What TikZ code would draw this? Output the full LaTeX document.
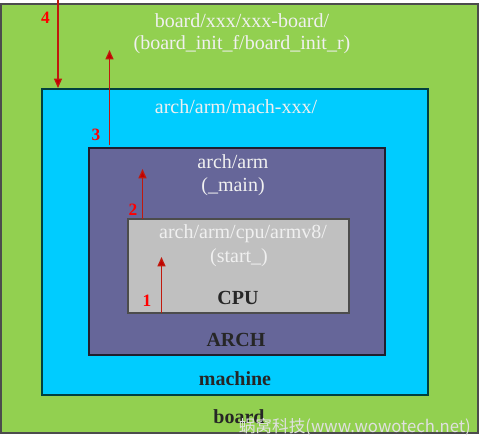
\documentclass[tikz,border=0pt]{standalone}
\usepackage{fontspec}
\setmainfont{Liberation Serif}
\newfontfamily\cjkwm{Noto Sans CJK SC}
\usetikzlibrary{arrows.meta}
\definecolor{boardc}{HTML}{92D050}
\definecolor{machc}{HTML}{00CCFF}
\definecolor{archc}{HTML}{666699}
\definecolor{cpuc}{HTML}{C0C0C0}
\definecolor{arrc}{HTML}{C00000}
\definecolor{numc}{HTML}{FF0000}
\tikzset{
  layer/.style={draw=#1, line width=0.9pt},
  wtext/.style={text=white!94!black, font=\fontsize{15}{18}\selectfont, inner sep=0pt},
  btext/.style={text=black!85, font=\fontsize{15}{18}\selectfont\bfseries, inner sep=0pt},
  numtext/.style={text=numc, font=\fontsize{13}{15}\selectfont\bfseries, inner sep=0pt},
  flow/.style={draw=arrc!80!brown, line width=0.9pt, -{Triangle[length=7pt,width=6pt,fill=arrc]}},
}
\begin{document}
\begin{tikzpicture}[x=0.75pt,y=-0.75pt]
\useasboundingbox (0,0) rectangle (480,440);
% layers
\path[fill=boardc, layer=black!70] (1,4) rectangle (478,433);
\node[coordinate] (boardtop) at (58,0) {};
\path[fill=machc, layer=teal!50!black] (42,89) rectangle (428,395);
\path[fill=archc, layer=black!70!archc] (89,148) rectangle (385,355);
\path[fill=cpuc, layer=black!70] (128,219) rectangle (349,313);
% coordinates for arrows
\coordinate (machtop4) at (58,88);
\coordinate (a3s) at (109.5,145);
\coordinate (a3e) at (109.5,50);
\coordinate (a2s) at (142.5,219);
\coordinate (a2e) at (142.5,169);
\coordinate (a1s) at (161.5,313);
\coordinate (a1e) at (161.5,257);
% texts
\node[wtext] (bpath) at (242,21) {board/xxx/xxx-board/};
\node[wtext] (binit) at (242,45) {(board\_init\_f/board\_init\_r)};
\node[wtext] (mpath) at (236,107) {arch/arm/mach-xxx/};
\node[wtext] (apath) at (233,162) {arch/arm};
\node[wtext] (amain) at (233,187) {(\_main)};
\node[wtext] (cpath) at (243,234) {arch/arm/cpu/armv8/};
\node[wtext] (cstart) at (239,258) {(start\_)};
\node[btext] (cpul) at (238,298) {CPU};
\node[btext] (archl) at (236,340) {ARCH};
\node[btext] (machl) at (235,379) {machine};
\node[btext] (boardl) at (239,417) {board};
% arrows
\draw[flow] (boardtop) -- (machtop4);
\draw[flow] (a3s) -- (a3e);
\draw[flow] (a2s) -- (a2e);
\draw[flow] (a1s) -- (a1e);
% numbers
\node[numtext] (n4) at (45.5,18) {4};
\node[numtext] (n3) at (96,135) {3};
\node[numtext] (n2) at (133,210) {2};
\node[numtext] (n1) at (147,301) {1};
% watermark
\node[text=white!88!black, font=\cjkwm\fontsize{12.5}{14}\selectfont, inner sep=0pt, anchor=east] (wm) at (471,427) {蜗窝科技(www.wowotech.net)};
\end{tikzpicture}
\end{document}
